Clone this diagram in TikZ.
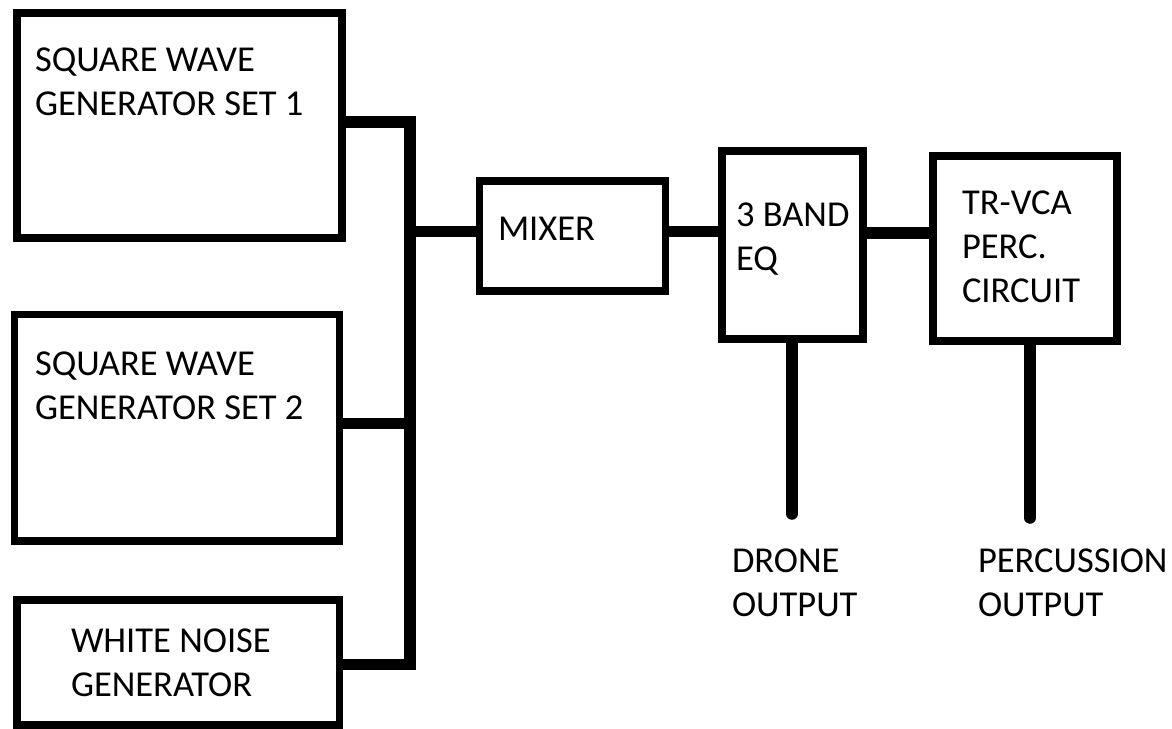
\documentclass[tikz,border=0pt]{standalone}
\usepackage{fontspec}
\setmainfont{Carlito}
\begin{document}
\begin{tikzpicture}[x=1pt,y=-1pt,
  box/.style={draw=black, line width=7.7pt, inner sep=0pt, outer sep=0pt, rectangle},
  lbl/.style={inner sep=0pt, outer sep=0pt, anchor=north west, align=left, font=\fontsize{36.5}{44}\selectfont},
  wire/.style={draw=black, line width=11.5pt, line join=miter},
  stub/.style={draw=black, line width=11.5pt, line cap=round}]
\useasboundingbox[fill=white] (0,0) rectangle (1172,728);

% boxes
\node[box, minimum width=325pt, minimum height=225pt] (sq1) at (179.5,125.5) {};
\node[box, minimum width=325pt, minimum height=226.5pt] (sq2) at (177,427.75) {};
\node[box, minimum width=322.5pt, minimum height=125pt] (wn) at (178.25,662.5) {};
\node[box, minimum width=186pt, minimum height=110pt] (mix) at (572.5,236) {};
\node[box, minimum width=141pt, minimum height=188pt] (eq) at (792.5,245) {};
\node[box, minimum width=184pt, minimum height=185pt] (tr) at (1025,248.5) {};

% texts
\node[lbl] (sq1t) at (35,48.3) {SQUARE WAVE\\GENERATOR SET 1};
\node[lbl] (sq2t) at (35,352.3) {SQUARE WAVE\\GENERATOR SET 2};
\node[lbl] (wnt) at (71,629.3) {WHITE NOISE\\GENERATOR};
\node[lbl] (mixt) at (498,217.3) {MIXER};
\node[lbl] (eqt) at (736,203.3) {3 BAND\\EQ};
\node[lbl] (trt) at (962,191.3) {TR-VCA\\PERC.\\CIRCUIT};
\node[lbl] (drot) at (732,549.3) {DRONE\\OUTPUT};
\node[lbl] (pert) at (978,549.3) {PERCUSSION\\OUTPUT};

% bus and connectors
\coordinate (j1) at (410,122);
\coordinate (j2) at (410,423.5);
\coordinate (j3) at (410,664.5);
\coordinate (jm) at (410,231.5);
\draw[wire] (sq1.east |- j1) -- (j1) -- (j3) -- (wn.east |- j3);
\draw[wire] (sq2.east |- j2) -- (j2);
\draw[wire] (jm) -- (mix.west |- jm);
\coordinate (me) at (mix.east |- 0,231.5);
\draw[wire] (me) -- (me -| eq.west);
\coordinate (et) at (eq.east |- 0,233);
\draw[wire] (et) -- (et -| tr.west);

% outputs
\coordinate (eqb) at ([yshift=-4pt]eq.south);
\coordinate (trb) at ([yshift=-4pt]tr.south);
\coordinate (dro) at (792,514);
\coordinate (per) at (1030,518);
\draw[stub] (eqb -| dro) -- (dro);
\draw[stub] (trb -| per) -- (per);
\end{tikzpicture}
\end{document}
